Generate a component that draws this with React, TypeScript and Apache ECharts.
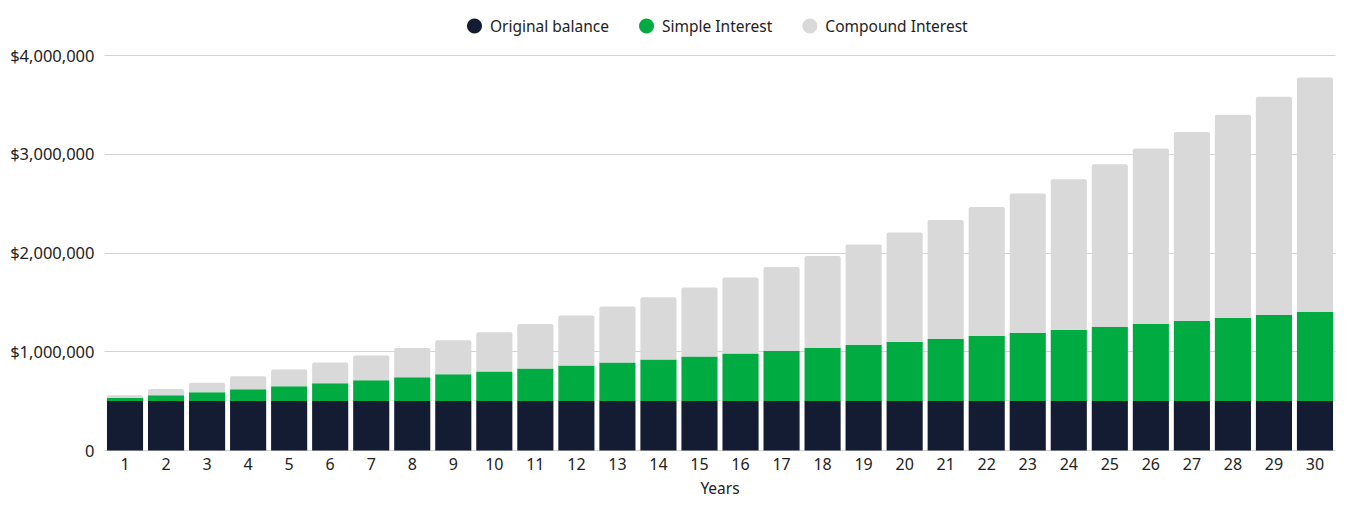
import React, { useEffect, useRef } from 'react';
import * as echarts from 'echarts';

const years = Array.from({ length: 30 }, (_, i) => String(i + 1));

const originalBalance = [
  500000, 500000, 500000, 500000, 500000, 500000, 500000, 500000, 500000, 500000,
  500000, 500000, 500000, 500000, 500000, 500000, 500000, 500000, 500000, 500000,
  500000, 500000, 500000, 500000, 500000, 500000, 500000, 500000, 500000, 500000,
];

const simpleInterest = [
  30000, 60000, 90000, 120000, 150000, 180000, 210000, 240000, 270000, 300000,
  330000, 360000, 390000, 420000, 450000, 480000, 510000, 540000, 570000, 600000,
  630000, 660000, 690000, 720000, 750000, 780000, 810000, 840000, 870000, 900000,
];

const compoundInterest = [
  30000, 62000, 96000, 131000, 169000, 209000, 252000, 297000, 345000, 395000,
  449000, 506000, 566000, 630000, 698000, 770000, 846000, 927000, 1013000, 1104000,
  1200000, 1302000, 1410000, 1524000, 1646000, 1775000, 1911000, 2056000, 2209000, 2372000,
];

const FONT = '"Noto Sans", sans-serif';
const TEXT = '#222222';

const App: React.FC = () => {
  const chartRef = useRef<HTMLDivElement>(null);

  useEffect(() => {
    document.body.style.margin = '0';
    if (!chartRef.current) {
      return;
    }
    const chart = echarts.init(chartRef.current, null, { renderer: 'svg' });

    const option: echarts.EChartsOption = {
      animation: false,
      backgroundColor: '#ffffff',
      textStyle: { fontFamily: FONT },
      legend: {
        top: 13,
        left: 462,
        icon: 'circle',
        itemWidth: 15,
        itemHeight: 15,
        itemGap: 30,
        textStyle: { color: TEXT, fontSize: 15.5, fontFamily: FONT, padding: [0, 0, 0, 3] },
        data: ['Original balance', 'Simple Interest', 'Compound Interest'],
      },
      grid: {
        left: 104.5,
        right: 13.5,
        top: 55,
        bottom: 55.5,
        containLabel: false,
      },
      xAxis: {
        type: 'category',
        data: years,
        name: 'Years',
        nameLocation: 'middle',
        nameGap: 29,
        nameTextStyle: { color: TEXT, fontSize: 15.5, fontFamily: FONT },
        axisLine: { show: false },
        axisTick: { show: false },
        axisLabel: { color: TEXT, fontSize: 16, margin: 5, fontFamily: FONT },
      },
      yAxis: {
        type: 'value',
        min: 0,
        max: 4000000,
        interval: 1000000,
        axisLine: { show: false },
        axisTick: { show: false },
        axisLabel: {
          color: TEXT,
          fontSize: 16.5,
          margin: 10,
          fontFamily: FONT,
          formatter: (v: number) => (v === 0 ? '0' : '$' + v.toLocaleString('en-US')),
        },
        splitLine: { lineStyle: { color: '#d3d3d3', width: 1 } },
      },
      series: [
        {
          name: 'Original balance',
          type: 'bar',
          stack: 'total',
          data: originalBalance,
          barCategoryGap: '12%',
          itemStyle: { color: '#141c33' },
        },
        {
          name: 'Simple Interest',
          type: 'bar',
          stack: 'total',
          data: simpleInterest,
          itemStyle: { color: '#00ac41' },
        },
        {
          name: 'Compound Interest',
          type: 'bar',
          stack: 'total',
          data: compoundInterest,
          itemStyle: { color: '#d9d9d9', borderRadius: [2, 2, 0, 0] },
        },
      ],
    };

    chart.setOption(option);

    return () => {
      chart.dispose();
    };
  }, []);

  return <div ref={chartRef} style={{ width: '1349px', height: '506px' }} />;
};

export default App;
